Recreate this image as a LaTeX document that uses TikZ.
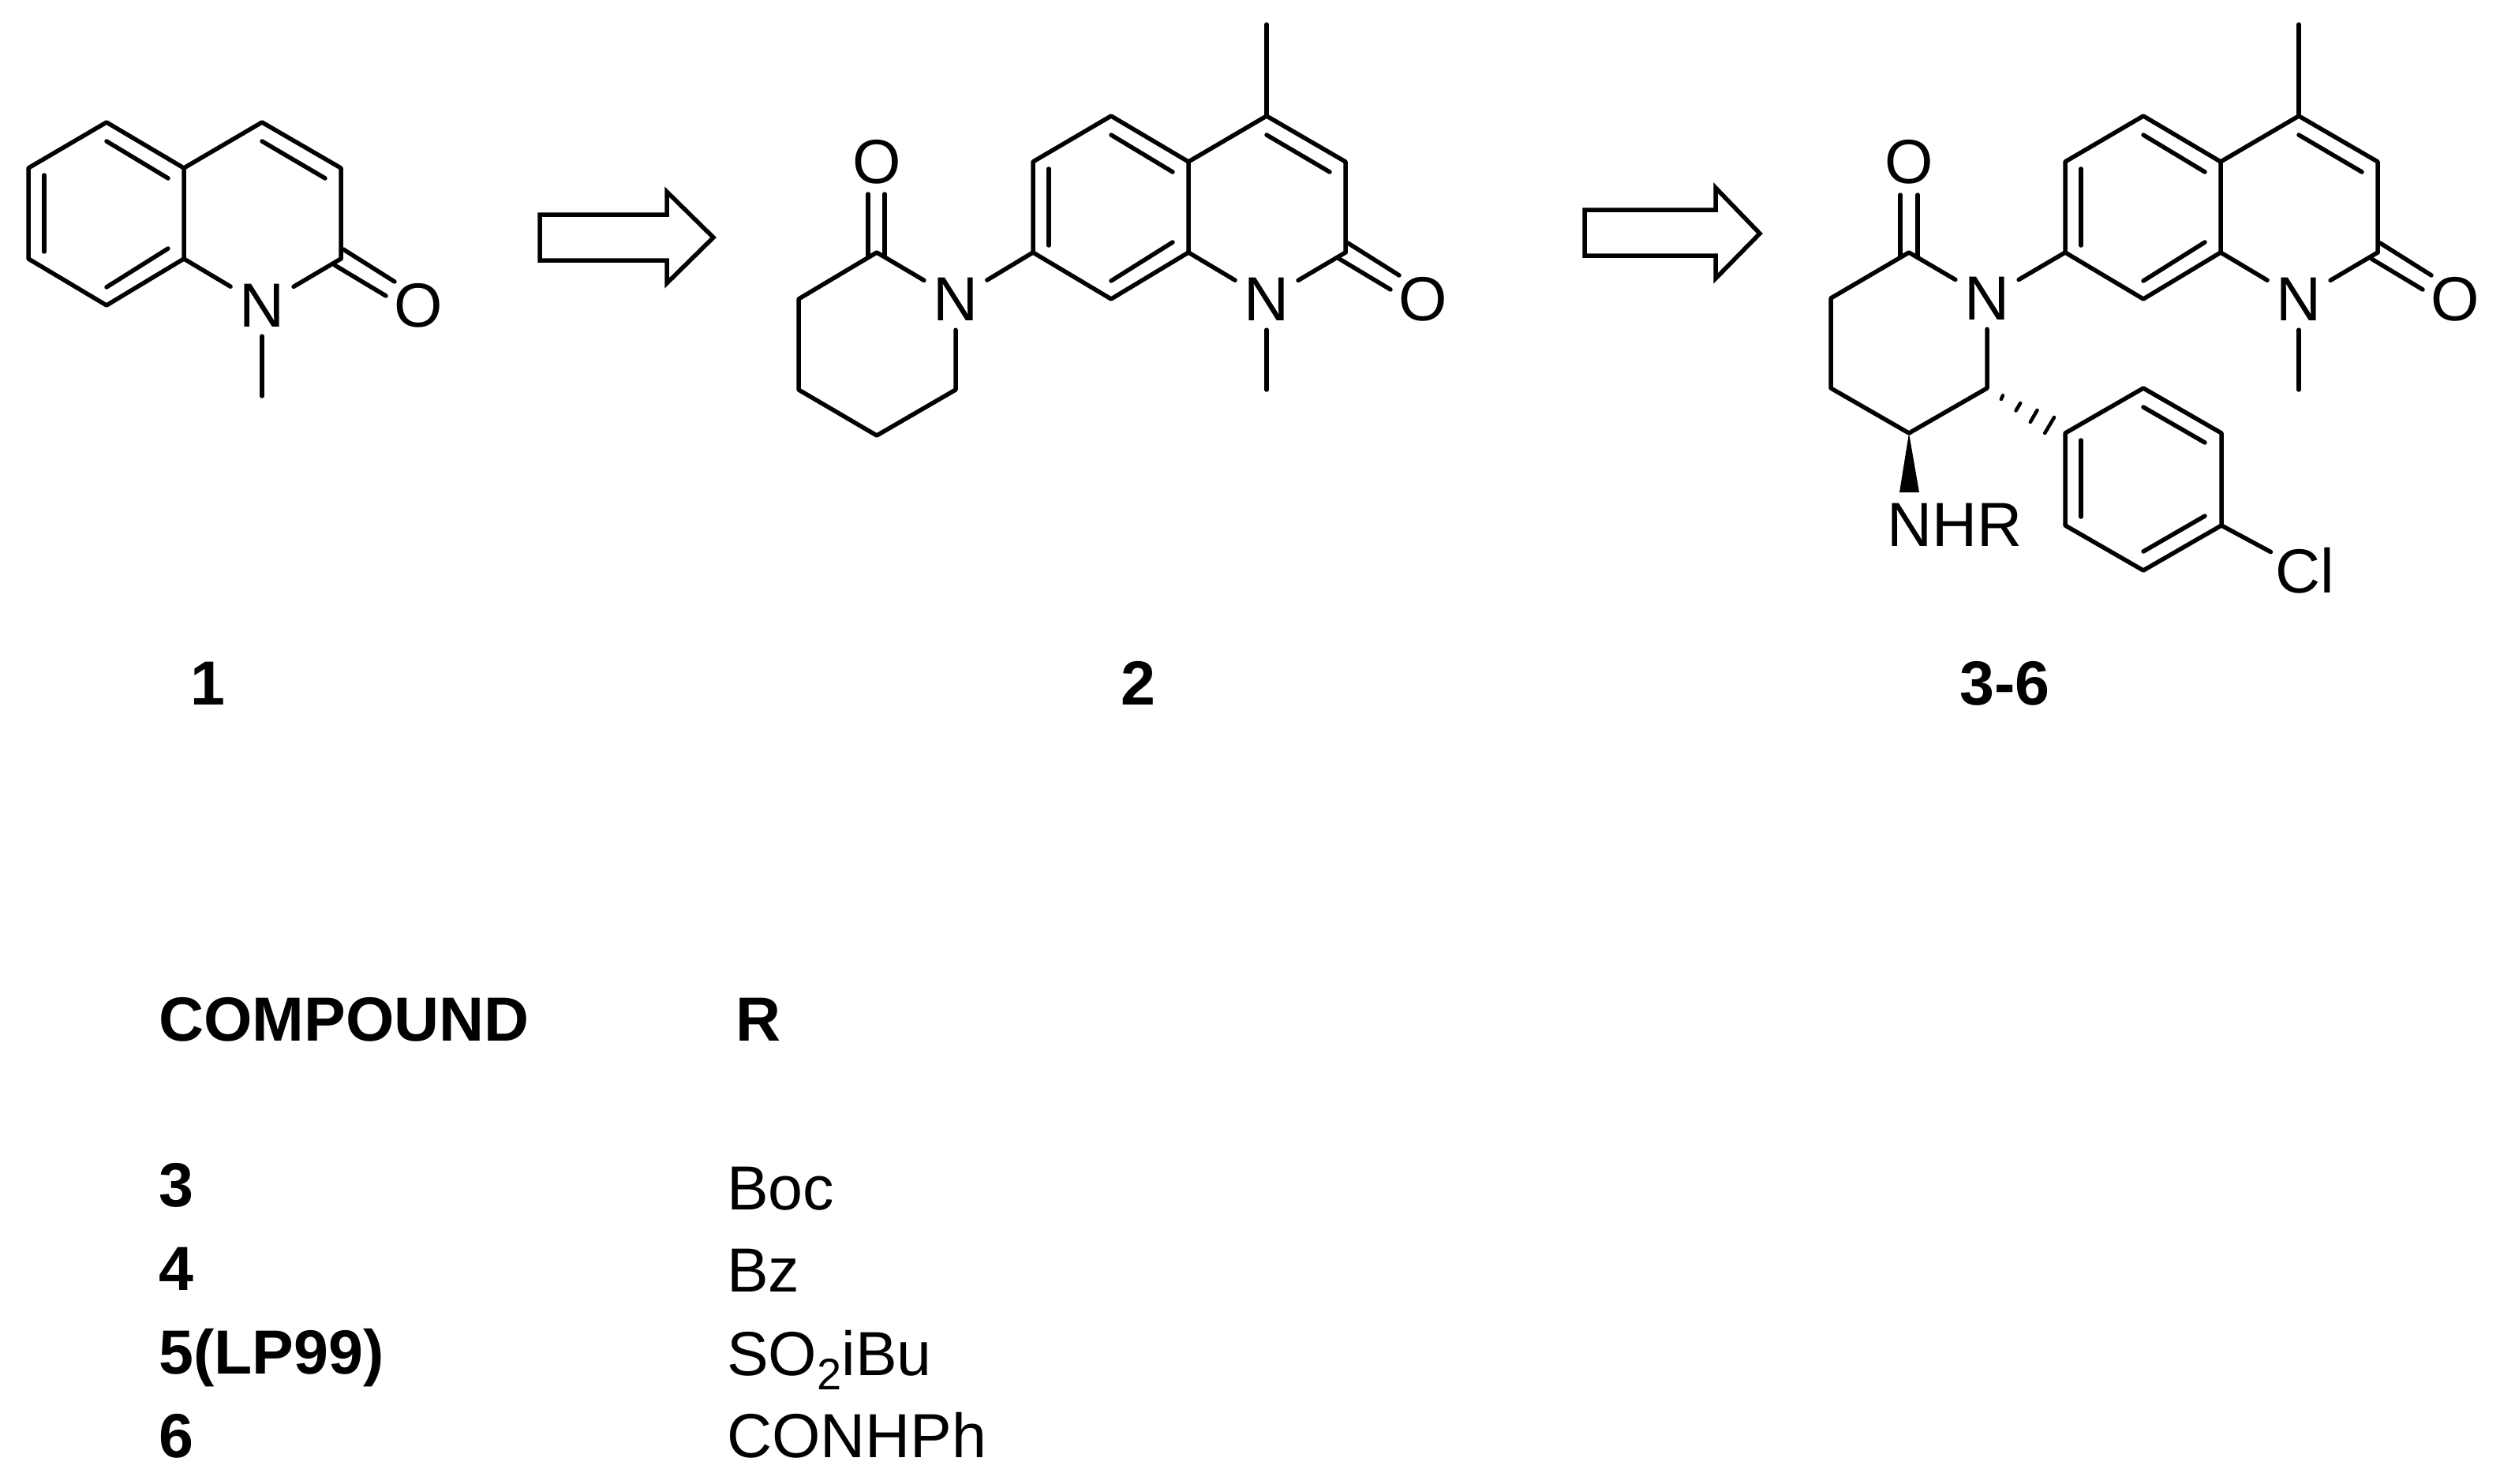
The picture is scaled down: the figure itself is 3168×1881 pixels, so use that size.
\documentclass[tikz,border=0pt]{standalone}
\usepackage{fontspec}
\setmainfont{Liberation Sans}
\usetikzlibrary{shapes.geometric}
\tikzset{
  bond/.style={line width=5.5pt,line cap=round,line join=round,black},
  atomn/.style={shape=ellipse,inner sep=0pt,minimum width=100pt,minimum height=78pt,font=\fontsize{79}{79}\selectfont},
  atomo/.style={inner sep=0pt,font=\fontsize{79}{79}\selectfont},
  cpdlabel/.style={inner sep=0pt,anchor=base west,font=\fontsize{79}{79}\selectfont\bfseries},
  rlabel/.style={inner sep=0pt,anchor=base west,font=\fontsize{79}{79}\selectfont},
  blockarrow/.style={line width=5.5pt,line join=miter,draw=black,fill=white},
  wedgebond/.style={fill=black,draw=none},
}
% quinolinone core: #1 prefix, #2 #3 shift
\newcommand{\qcore}[3]{%
\begin{scope}[shift={(#2,#3)}]
  \coordinate (#1c4) at (1605,147);
  \coordinate (#1c3) at (1705,205);
  \coordinate (#1c2) at (1705,320);
  \coordinate (#1c8a) at (1506,320);
  \coordinate (#1c4a) at (1506,205);
  \coordinate (#1c5) at (1408,147);
  \coordinate (#1c6) at (1309,205);
  \coordinate (#1c7) at (1309,320);
  \coordinate (#1c8) at (1408,379);
  \coordinate (#1me) at (1605,494);
  \coordinate (#1ia) at (1329,214);
  \coordinate (#1ib) at (1329,311);
  \coordinate (#1ic) at (1408,171);
  \coordinate (#1id) at (1486,218);
  \coordinate (#1ie) at (1486,307);
  \coordinate (#1if) at (1408,356);
  \coordinate (#1ig) at (1605,171);
  \coordinate (#1ih) at (1685,218);
  \coordinate (#1oa) at (1708,308);
  \coordinate (#1ob) at (1773,349);
  \coordinate (#1oc) at (1697,328);
  \coordinate (#1od) at (1762,367);
  \node[atomn] (#1n) at (1605,379) {N};
  \node[atomo] (#1o) at (1803,379) {O};
\end{scope}
\draw[bond] (#1c8) -- (#1c7) -- (#1c6) -- (#1c5) -- (#1c4a) -- (#1c8a) -- cycle;
\draw[bond] (#1c4a) -- (#1c4) -- (#1c3) -- (#1c2);
\draw[bond] (#1ia) -- (#1ib);
\draw[bond] (#1ic) -- (#1id);
\draw[bond] (#1ie) -- (#1if);
\draw[bond] (#1ig) -- (#1ih);
\draw[bond] (#1oa) -- (#1ob);
\draw[bond] (#1oc) -- (#1od);
\draw[bond] (#1c8a) -- (#1n);
\draw[bond] (#1c2) -- (#1n);
\draw[bond] (#1n) -- (#1me);
}
\begin{document}
\begin{tikzpicture}[x=1pt,y=-1pt]
\fill[white] (0,0) rectangle (3168,1881);
\useasboundingbox (0,0) rectangle (3168,1881);

% compound 1
\qcore{a}{-1273}{8}

% arrows
\draw[blockarrow] (684,272) -- (845,272) -- (845,243) -- (904,301) -- (845,359) -- (845,330) -- (684,330) -- cycle;
\draw[blockarrow] (2008,266) -- (2174,266) -- (2174,238) -- (2230,296) -- (2174,353) -- (2174,324) -- (2008,324) -- cycle;

% compound 2
\qcore{b}{0}{0}
\coordinate (bme4) at (1605,31);
\draw[bond] (bc4) -- (bme4);
\node[atomn] (bnp) at (1211,379) {N};
\node[atomo] (bop) at (1111,205) {O};
\coordinate (bl1) at (1111,320);
\coordinate (bl2) at (1012,379);
\coordinate (bl3) at (1012,494);
\coordinate (bl4) at (1111,552);
\coordinate (bl5) at (1211,494);
\coordinate (bla) at (1100,246);
\coordinate (blb) at (1100,325);
\coordinate (blc) at (1121,246);
\coordinate (bld) at (1121,325);
\draw[bond] (bc7) -- (bnp);
\draw[bond] (bnp) -- (bl1) -- (bl2) -- (bl3) -- (bl4) -- (bl5) -- (bnp);
\draw[bond] (bla) -- (blb);
\draw[bond] (blc) -- (bld);

% compound 3-6
\qcore{c}{1308}{0}
\coordinate (cme4) at (2913,31);
\draw[bond] (cc4) -- (cme4);
\node[atomn] (cnp) at (2518,378) {N};
\node[atomo] (cop) at (2419,205) {O};
\coordinate (cl1) at (2419,320);
\coordinate (cl2) at (2320,378);
\coordinate (cl3) at (2320,492);
\coordinate (cl4) at (2419,549);
\coordinate (cl5) at (2518,492);
\coordinate (cla) at (2408,247);
\coordinate (clb) at (2408,326);
\coordinate (clc) at (2430,247);
\coordinate (cld) at (2430,326);
\draw[bond] (cc7) -- (cnp);
\draw[bond] (cnp) -- (cl1) -- (cl2) -- (cl3) -- (cl4) -- (cl5) -- (cnp);
\draw[bond] (cla) -- (clb);
\draw[bond] (clc) -- (cld);
% wedge to NHR
\node[atomo] (cnhr) at (2477,665) {NHR};
\fill[wedgebond] (cl4) -- (2432,624) -- (2407,624) -- cycle;
% hashed bond
\draw[bond,line width=4.5pt] (2538,501.3) -- (2535.8,506);
\draw[bond,line width=4.5pt] (2560.2,511) -- (2554.5,520.5);
\draw[bond,line width=4.5pt] (2581.5,520) -- (2572.8,535);
\draw[bond,line width=4.5pt] (2603,529) -- (2591.2,549);
% chlorophenyl
\coordinate (ar1) at (2617,549);
\coordinate (ar2) at (2716,492);
\coordinate (ar3) at (2815,549);
\coordinate (ar4) at (2815,666);
\coordinate (ar5) at (2716,723);
\coordinate (ar6) at (2617,666);
\draw[bond] (ar1) -- (ar2) -- (ar3) -- (ar4) -- (ar5) -- (ar6) -- cycle;
\coordinate (ara) at (2716,516);
\coordinate (arb) at (2794,561);
\coordinate (arc) at (2794,654);
\coordinate (ard) at (2716,699);
\coordinate (are) at (2637,558);
\coordinate (arf) at (2637,655);
\draw[bond] (ara) -- (arb);
\draw[bond] (arc) -- (ard);
\draw[bond] (are) -- (arf);
\node[atomn] (ccl) at (2921,723) {Cl};
\draw[bond] (ar4) -- (ccl);

% compound labels
\node[cpdlabel] (l1) at (241,893) {1};
\node[cpdlabel] (l2) at (1420,893) {2};
\node[cpdlabel] (l3) at (2483,893) {3-6};

% table
\node[cpdlabel] (thc) at (201,1319) {COMPOUND};
\node[cpdlabel] (thr) at (932,1319) {R};
\node[cpdlabel] (t3) at (201,1529) {3};
\node[cpdlabel] (t4) at (201,1635) {4};
\node[cpdlabel] (t5) at (201,1741) {5(LP99)};
\node[cpdlabel] (t6) at (201,1847) {6};
\node[rlabel] (r3) at (921,1533) {Boc};
\node[rlabel] (r4) at (921,1637) {Bz};
\node[rlabel] (r5) at (921,1743) {SO\raisebox{-18pt}{\fontsize{56}{56}\selectfont 2}iBu};
\node[rlabel] (r6) at (921,1847) {CONHPh};
\end{tikzpicture}
\end{document}
